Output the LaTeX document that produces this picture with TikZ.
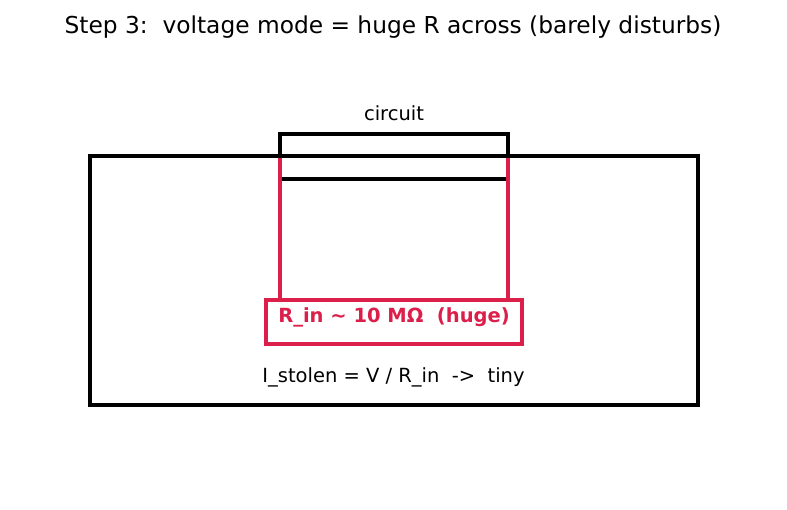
\documentclass[tikz,border=0pt]{standalone}
\usepackage{fontspec}
\setmainfont{DejaVu Sans}
\usepackage{xcolor}
\definecolor{rinred}{HTML}{DC1E4A}

\begin{document}
\begin{tikzpicture}[x=1pt,y=-1pt,
  box/.style={draw,line width=4pt,inner sep=0pt,outer sep=0pt},
  lbl/.style={inner sep=0pt,font=\fontsize{19.5}{23}\selectfont}]
 \pgfmathsetmacro{\cx}{394}
  \useasboundingbox (0,0) rectangle (787,510);
  \node[inner sep=0pt,font=\fontsize{23.3}{27}\selectfont] (title) at (393,27) {Step 3:\ \ voltage mode = huge R across (barely disturbs)};

  % outer box and circuit
  \node[box,minimum width=608pt,minimum height=249pt] (outer) at (394,280.5) {};
  \node[box,minimum width=228pt,minimum height=45pt] (circuit) at (\cx,156.5) {};
  \node[lbl] (clabel) at ([yshift=21pt]circuit.north) {circuit};

  % meter with huge input resistance
  \node[box,draw=rinred,minimum width=256pt,minimum height=44pt] (rin) at (\cx,322) {};
  \node[lbl,text=rinred,font=\fontsize{19.5}{23}\selectfont\bfseries] (rlabel) at (\cx,317.5) {R\_in \textasciitilde\ 10 MΩ\ \ (huge)};
  \draw[rinred,line width=4pt] ([yshift=-2pt]outer.north -| circuit.west) -- (rin.north -| circuit.west);
  \draw[rinred,line width=4pt] ([yshift=-2pt]outer.north -| circuit.east) -- (rin.north -| circuit.east);

  \node[lbl] (ilabel) at (393.5,377.5) {I\_stolen = V / R\_in\ \ ->\ \ tiny};
\end{tikzpicture}
\end{document}
